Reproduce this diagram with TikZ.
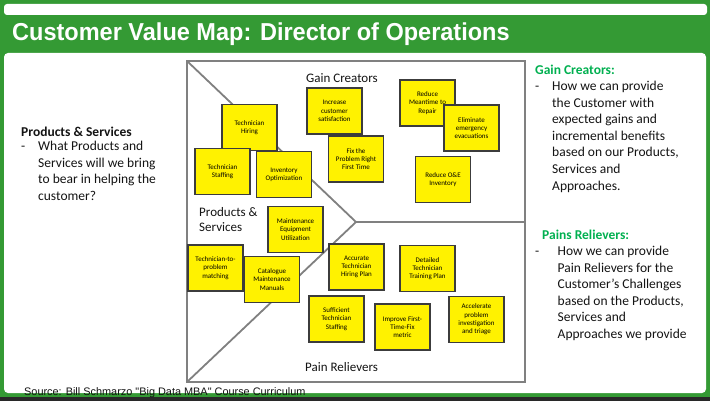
\documentclass[tikz,border=0pt]{standalone}
\usepackage{fontspec}
\setmainfont{Carlito}
\newfontfamily\arialf{Liberation Sans}
\definecolor{framegreen}{RGB}{52,154,52}
\definecolor{headgreen}{RGB}{0,176,80}
\definecolor{linegray}{RGB}{128,128,128}
\definecolor{notebd}{RGB}{60,60,60}
\definecolor{darkstrip}{RGB}{40,40,40}
\definecolor{txt}{RGB}{20,20,20}
\begin{document}
\begin{tikzpicture}[x=1pt,y=-1pt,
  mapline/.style={draw=linegray, line width=1.8pt},
  note/.style={draw=notebd, line width=1.1pt, fill=yellow, minimum width=55pt, minimum height=46pt,
    inner sep=0pt, align=center, text=black, font=\fontsize{7}{8.3}\selectfont},
  bodytxt/.style={anchor=base west, inner sep=0pt, text=txt, font=\fontsize{13.5}{16}\selectfont},
  headtxt/.style={anchor=base west, inner sep=0pt, font=\bfseries\fontsize{13.5}{16}\selectfont},
  maplabel/.style={anchor=base west, inner sep=0pt, text=txt, font=\fontsize{13}{15}\selectfont}]
\useasboundingbox (0,0) rectangle (710,401);
% frame
\fill[framegreen] (0,0) rectangle (710,397);
\fill[darkstrip] (0,397) rectangle (710,401);
\fill[white, rounded corners=3pt] (4,4) rectangle (707,15);
\fill[white, rounded corners=4pt] (4,53) rectangle (706,393);
\node[anchor=base west, inner sep=0pt, text=white, font=\arialf\bfseries\fontsize{24.5}{28}\selectfont] (title) at (12,41) {\scalebox{0.96}[1]{Customer Value Map: Director of Operations}};
% map
\coordinate (tl) at (187,61);
\coordinate (br) at (525,382);
\coordinate (bl) at (187,382);
\coordinate (tip) at (356,222);
\coordinate (rm) at (525,222);
\draw[mapline] (tl) rectangle (br);
\draw[mapline] (tl) -- (tip) -- (bl);
\draw[mapline] (tip) -- (rm);
\node[maplabel] (gclab) at (306,83) {Gain Creators};
\node[maplabel] (pslab1) at (199,216.5) {Products \&};
\node[maplabel] (pslab2) at (199,231.5) {Services};
\node[maplabel] (prlab) at (305,371.5) {Pain Relievers};
% notes
\node[note] (n1) at (249.5,127.5) {Technician\\Hiring};
\node[note] (n2) at (222.5,171.5) {Technician\\Staffing};
\node[note] (n3) at (284,174.5) {Inventory\\Optimization};
\node[note] (n4) at (334.5,111) {Increase\\customer\\satisfaction};
\node[note] (n5) at (356,159) {Fix the\\Problem Right\\First Time};
\node[note] (n6) at (427.5,103) {Reduce\\Meantime to\\Repair};
\node[note] (n7) at (471.5,128) {Eliminate\\emergency\\evacuations};
\node[note] (n8) at (443,179.5) {Reduce O\&E\\Inventory};
\node[note] (n9) at (295.5,229.5) {Maintenance\\Equipment\\Utilization};
\node[note] (n10) at (215.5,268) {Technician-to-\\problem\\matching};
\node[note] (n11) at (272,279.5) {Catalogue\\Maintenance\\Manuals};
\node[note] (n12) at (356.5,267) {Accurate\\Technician\\Hiring Plan};
\node[note] (n13) at (427.5,268.5) {Detailed\\Technician\\Training Plan};
\node[note] (n14) at (336.5,319) {Sufficient\\Technician\\Staffing};
\node[note] (n15) at (402.5,327) {Improve First-\\Time-Fix\\metric};
\node[note] (n16) at (476.5,319.5) {Accelerate\\problem\\investigation\\and triage};
% left text
\node[headtxt, text=txt] (pshead) at (21,136.5) {Products \& Services};
\node[bodytxt] (psdash) at (21,150.5) {-};
\foreach \t [count=\i] in {What Products and, Services will we bring, to bear in helping the, customer?}
  \node[bodytxt] (ps\i) at ({38},{150.5+16.7*(\i-1)}) {\t};
% right text: gain creators
\node[headtxt, text=headgreen] (gchead) at (535,75) {Gain Creators:};
\node[bodytxt] (gcdash) at (535,90.5) {-};
\foreach \t [count=\i] in {How we can provide, the Customer with, expected gains and, incremental benefits, {based on our Products,}, Services and, Approaches.}
  \node[bodytxt] (gc\i) at ({552},{90.5+16.6*(\i-1)}) {\t};
% right text: pain relievers
\node[headtxt, text=headgreen] (prhead) at (542,239.5) {Pains Relievers:};
\node[bodytxt] (prdash) at (535,255.5) {-};
\foreach \t [count=\i] in {How we can provide, Pain Relievers for the, Customer’s Challenges, {based on the Products,}, Services and, Approaches we provide}
  \node[bodytxt] (pr\i) at ({557.5},{255.5+16.5*(\i-1)}) {\t};
% source
\node[anchor=base west, inner sep=0pt, text=txt, font=\arialf\fontsize{10.9}{12}\selectfont] (src) at (24,395) {Source: Bill Schmarzo "Big Data MBA" Course Curriculum};
\end{tikzpicture}
\end{document}
